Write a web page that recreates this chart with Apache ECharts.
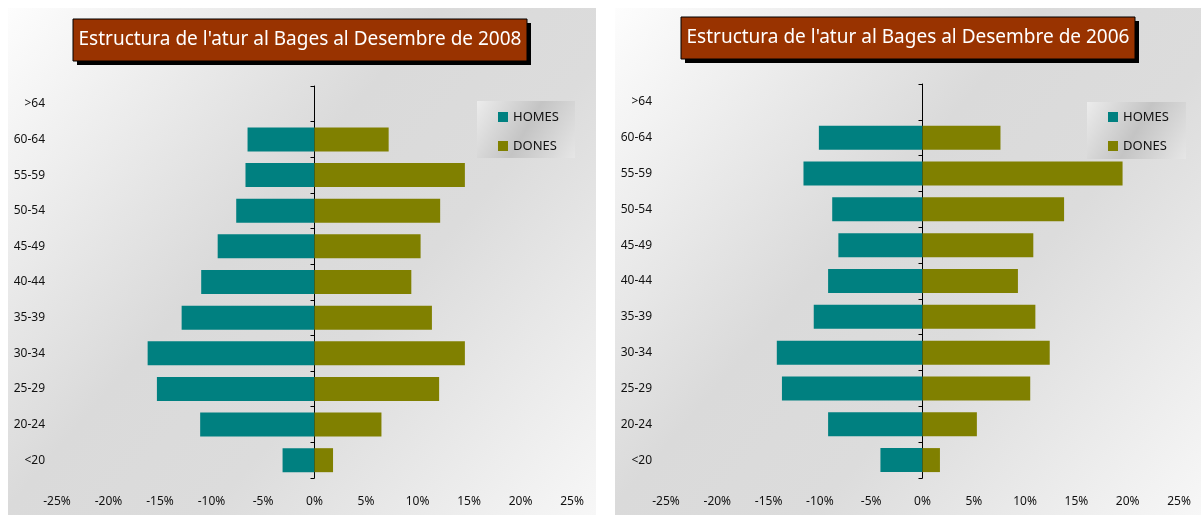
<!DOCTYPE html>
<html lang="ca">
<head>
	<meta charset="UTF-8">
	<title>Estructura de l'atur al Bages</title>
	<script src="https://cdn.jsdelivr.net/npm/echarts@6/dist/echarts.min.js"></script>
	<style>
		html, body { margin: 0; padding: 0; background: #fff; }
		#chart { width: 1201px; height: 515px; }
	</style>
</head>
<body>
	<div id="chart"></div>
	<script>
		// franges d'edat (de baix a dalt)
		var edats = ['<20', '20-24', '25-29', '30-34', '35-39', '40-44', '45-49', '50-54', '55-59', '60-64', '>64'];
		var titol2008 = "Estructura de l'atur al Bages al Desembre de 2008";
		var titol2006 = "Estructura de l'atur al Bages al Desembre de 2006";

		// % sobre el total, homes en negatiu
		var homes2008 = [-3.1, -11.1, -15.3, -16.2, -12.9, -11.0, -9.4, -7.6, -6.7, -6.5, 0];
		var dones2008 = [1.8, 6.5, 12.1, 14.6, 11.4, 9.4, 10.3, 12.2, 14.6, 7.2, 0];
		var homes2006 = [-4.1, -9.2, -13.7, -14.2, -10.6, -9.2, -8.2, -8.8, -11.6, -10.1, 0];
		var dones2006 = [1.7, 5.3, 10.5, 12.4, 11.0, 9.3, 10.8, 13.8, 19.5, 7.6, 0];

		var fontFam = 'Noto Sans';
		var cHomes = '#008080', cDones = '#808000';

		// posicio de les dues grafiques
		var g0 = { left: 57, right: 572, top: 86 };
		var g1 = { left: 666, right: 1179, top: 84 };

		var myChart = echarts.init(document.getElementById('chart'));

		function fons() {
			return new echarts.graphic.LinearGradient(0, 0, 1, 1, [
				{ offset: 0, color: '#fdfdfd' },
				{ offset: 0.42, color: '#dadada' },
				{ offset: 0.62, color: '#dcdcdc' },
				{ offset: 1, color: '#f7f7f7' }
			]);
		}
		function fonsLlegenda() {
			return new echarts.graphic.LinearGradient(0, 0, 1, 1, [
				{ offset: 0, color: '#ececec' },
				{ offset: 0.5, color: '#c4c4c4' },
				{ offset: 1, color: '#e6e6e6' }
			]);
		}
		function caixaTitol(x, y, w, h, text) {
			return [
				{ type: 'rect', z: 10, shape: { x: x + 4, y: y + 4, width: w, height: h }, style: { fill: '#000' } },
				{ type: 'rect', z: 11, shape: { x: x, y: y, width: w, height: h }, style: { fill: '#993300', stroke: '#000', lineWidth: 1 } },
				{ type: 'text', z: 12, x: x + w / 2, y: y + h / 2, style: { text: text, fill: '#fff', font: '19px "' + fontFam + '"', align: 'center', verticalAlign: 'middle' } }
			];
		}

		function eixX(idx) {
			return {
				gridIndex: idx,
				type: 'value',
				min: -25, max: 25, interval: 5,
				axisLine: { lineStyle: { color: '#000', width: 1 } },
				axisTick: { inside: true, length: 5, lineStyle: { color: '#000' } },
				axisLabel: { formatter: '{value}%', color: '#111', fontSize: 12, fontFamily: fontFam, margin: 18 },
				splitLine: { show: false }
			};
		}
		// eix nomes amb etiquetes, a l'esquerra
		function eixEtiquetes(idx, marge) {
			return {
				gridIndex: idx,
				type: 'category',
				data: edats,
				position: 'left',
				axisLine: { show: false, onZero: false },
				axisTick: { show: false },
				axisLabel: { color: '#111', fontSize: 12, fontFamily: fontFam, margin: marge, padding: [0, 0, 6, 0] },
				splitLine: { show: false }
			};
		}
		// eix central (linia i marques al 0%)
		function eixZero(idx, desp) {
			return {
				gridIndex: idx,
				type: 'category',
				data: edats,
				position: 'left',
				offset: desp,
				axisLine: { show: true, onZero: false, lineStyle: { color: '#000', width: 1 } },
				axisTick: { show: true, length: 4, lineStyle: { color: '#000' } },
				axisLabel: { show: false },
				splitLine: { show: false }
			};
		}
		function barra(nom, dades, color, idx) {
			return {
				name: nom, type: 'bar',
				xAxisIndex: idx, yAxisIndex: idx,
				data: dades,
				barWidth: 24, barGap: '-100%',
				itemStyle: { color: color },
				emphasis: { disabled: true }
			};
		}
		function llegenda(left) {
			return {
				data: ['HOMES', 'DONES'],
				orient: 'vertical',
				left: left, top: 105,
				itemWidth: 10, itemHeight: 10, itemGap: 15,
				icon: 'rect',
				textStyle: { color: '#111', fontSize: 13, fontFamily: fontFam, lineHeight: 14 }
			};
		}

		var graf = [
			{ type: 'rect', z: -10, shape: { x: 8, y: 8, width: 588, height: 507 }, style: { fill: fons() } },
			{ type: 'rect', z: -10, shape: { x: 615, y: 8, width: 586, height: 507 }, style: { fill: fons() } },
			{ type: 'rect', z: 3, shape: { x: 477, y: 101, width: 98, height: 57 }, style: { fill: fonsLlegenda() } },
			{ type: 'rect', z: 3, shape: { x: 1087, y: 102, width: 99, height: 57 }, style: { fill: fonsLlegenda() } }
		].concat(caixaTitol(73, 19, 454, 42, titol2008), caixaTitol(681, 17, 454, 42, titol2006));

		myChart.setOption({
			animation: false,
			graphic: graf,
			legend: [llegenda(493), llegenda(1103)],
			grid: [
				{ left: g0.left, right: 1201 - g0.right, top: g0.top, bottom: 37, containLabel: false, outerBoundsMode: 'none' },
				{ left: g1.left, right: 1201 - g1.right, top: g1.top, bottom: 37, containLabel: false, outerBoundsMode: 'none' }
			],
			xAxis: [eixX(0), eixX(1)],
			yAxis: [
				eixEtiquetes(0, 12),
				eixEtiquetes(1, 14),
				eixZero(0, -(g0.right - g0.left) / 2),
				eixZero(1, -(g1.right - g1.left) / 2)
			],
			series: [
				barra('HOMES', homes2008, cHomes, 0),
				barra('DONES', dones2008, cDones, 0),
				barra('HOMES', homes2006, cHomes, 1),
				barra('DONES', dones2006, cDones, 1)
			]
		});
	</script>
</body>
</html>
